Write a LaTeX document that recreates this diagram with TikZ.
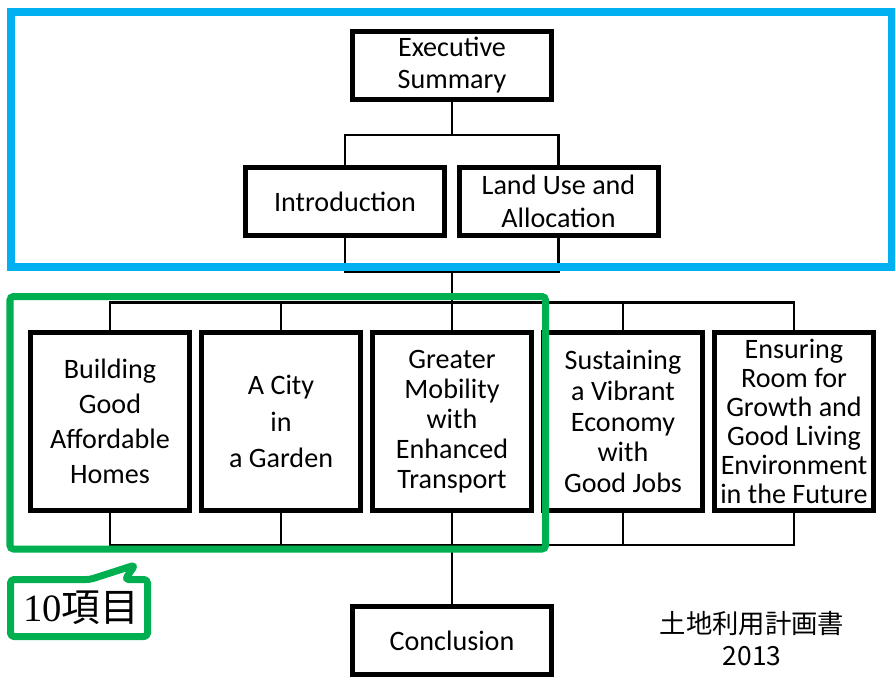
\documentclass[tikz,border=0pt]{standalone}
\usepackage{fontspec}
\setmainfont{Carlito}
\newfontfamily\cjk{Noto Sans CJK JP}
\newfontfamily\numserif{Liberation Serif}
\usetikzlibrary{positioning}

\definecolor{frameblue}{HTML}{00B0F0}
\definecolor{framegreen}{HTML}{00B050}

\begin{document}
\begin{tikzpicture}[
		chapter/.style={rectangle, draw=black, fill=white, line width=0.1cm, inner sep=1pt, align=center},
		wide/.style={chapter, minimum width=3.98cm, minimum height=1.36cm},
		tall/.style={chapter, minimum width=3.18cm, minimum height=3.56cm},
		link/.style={line width=0.05cm}
	]
		\useasboundingbox (0,0) rectangle (17.9,-13.68);

		% top part
		\node[wide, font=\fontsize{16}{18}\selectfont](exec)  at (9.04,-1.30) {Executive\\Summary};
		\node[wide, font=\fontsize{16}{18}\selectfont](intro) at (6.90,-4.03) {Introduction};
		\node[wide, font=\fontsize{16}{18.7}\selectfont](land) at (11.17,-4.03){Land Use and\\Allocation};

		% the five chapters
		\node[tall, font=\fontsize{16}{20}\selectfont](homes)     at (2.20,-8.43) {Building\\Good\\Affordable\\Homes};
		\node[tall, font=\fontsize{16}{21}\selectfont](garden)    at (5.62,-8.43) {A City\\in\\a Garden};
		\node[tall, font=\fontsize{16}{17}\selectfont](mobility)  at (9.04,-8.43) {Greater\\Mobility\\with\\Enhanced\\Transport};
		\node[tall, font=\fontsize{16}{17.5}\selectfont](economy) at (12.46,-8.43){Sustaining\\a Vibrant\\Economy\\with\\Good Jobs};
		\node[tall, font=\fontsize{16}{16.5}\selectfont](future)  at (15.88,-8.43){Ensuring\\Room for\\Growth and\\Good Living\\Environment\\in the Future};

		\node[wide, font=\fontsize{16}{18}\selectfont](conclusion) at (9.04,-12.81){Conclusion};

		% bus lines
		\coordinate (topbus)   at (9.04,-2.70);
		\coordinate (midbus)   at (9.04,-5.44);
		\coordinate (splitbus) at (9.04,-6.05);
		\coordinate (joinbus)  at (9.04,-10.90);

		\draw [link] (exec.south) -- (topbus);
		\draw [link] (intro.north) |- (topbus) -| (land.north);
		\draw [link] (intro.south) |- (midbus) -| (land.south);
		\draw [link] (midbus) -- (splitbus);
		\draw [link] (homes.north) |- (splitbus) -| (future.north);
		\draw [link] (homes.south) |- (joinbus) -| (future.south);
		\foreach \n in {garden, mobility, economy}{
			\draw [link] (\n.north) -- (\n.north |- splitbus);
			\draw [link] (\n.south) -- (\n.south |- joinbus);
		}
		\draw [link] (joinbus) -- (conclusion.north);

		% frames
		\draw [frameblue, line width=0.16cm] (0.22,-0.24) rectangle (17.84,-5.34);
		\draw [framegreen, line width=0.14cm, rounded corners=2pt] (0.20,-5.93) rectangle (10.91,-10.98);
		\draw [framegreen, line width=0.14cm, rounded corners=2pt, line join=round]
			(0.21,-11.59) -- (1.80,-11.59) -- (2.70,-11.30) -- (2.50,-11.59) -- (2.95,-11.59)
			-- (2.95,-12.73) -- (0.21,-12.73) -- cycle;
		\node(items) at (1.62,-12.16){\fontsize{22}{24}\selectfont\numserif 10\cjk 項目};

		\node[align=center, font=\fontsize{15}{18.7}\selectfont\cjk](title) at (15.04,-12.77){土地利用計画書\\2013};
	\end{tikzpicture}
\end{document}
